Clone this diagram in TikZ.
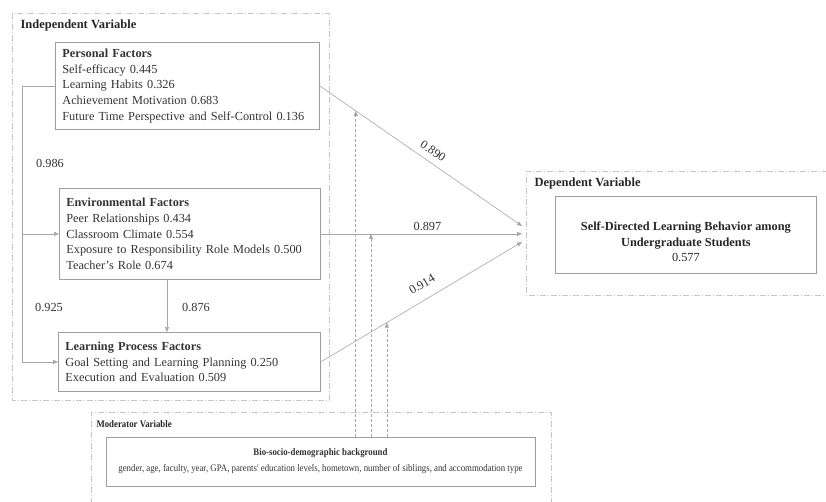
\documentclass[tikz,border=0pt]{standalone}
\usepackage{fontspec}
\setmainfont{Liberation Serif}
\newfontfamily\narrowserif[FakeStretch=0.88]{Liberation Serif}
\usetikzlibrary{arrows.meta,positioning,calc}

\begin{document}
\begin{tikzpicture}[
    x=1pt, y=-1pt,
    font=\fontsize{12.3}{15.7}\selectfont,
    >={Triangle[length=5pt,width=4pt]},
    group/.style={
      draw=gray!45, line width=0.6pt,
      dash pattern=on 6pt off 2pt on 1pt off 2pt,
    },
    grouptitle/.style={anchor=west, font=\fontsize{12.5}{14}\selectfont\bfseries, text=black!85},
    factor/.style={
      draw=gray!75, line width=0.8pt, anchor=north west,
      align=left, inner xsep=7pt, text=black!80,
    },
    link/.style={->, line width=0.6pt, draw=gray!70},
    modlink/.style={->, line width=0.6pt, draw=gray!70, dash pattern=on 3pt off 2pt},
    coef/.style={font=\fontsize{12.3}{14}\selectfont, text=black!80},
  ]
    \useasboundingbox (0,0) rectangle (826,502);

    % ===== Group frames =====
    \draw[group] (12,13) rectangle (329,400);
    \draw[group] (828,171) -- (526,171) -- (526,295) -- (828,295);
    \draw[group] (91,504) -- (91,412) -- (551,412) -- (551,504);

    \node[grouptitle] (indep) at (17,25) {Independent Variable};
    \node[grouptitle] (depv) at (531,183) {Dependent Variable};
    \node[grouptitle, font=\fontsize{10}{12}\selectfont\narrowserif\bfseries] (modv) at (93,424) {Moderator Variable};

    % ===== Factor boxes =====
    \node[factor, text width=250, minimum height=87] (pers) at (55,42) {%
      \textbf{Personal Factors}\\
      Self-efficacy 0.445\\
      Learning Habits 0.326\\
      Achievement Motivation 0.683\\
      Future Time Perspective and Self-Control 0.136};

    \node[factor, text width=247, minimum height=91] (env) at (59,188) {%
      \textbf{Environmental Factors}\\
      Peer Relationships 0.434\\
      Classroom Climate 0.554\\
      Exposure to Responsibility Role Models 0.500\\
      Teacher's Role 0.674};

    \node[factor, text width=248, minimum height=59] (lp) at (58,332) {%
      \textbf{Learning Process Factors}\\
      Goal Setting and Learning Planning 0.250\\
      Execution and Evaluation 0.509};

    % ===== Outcome and moderator =====
    \node[factor, minimum width=261, minimum height=77] (sdl) at (555,196) {};
    \node[align=center, text=black!85] (sdltxt) at ([yshift=-7pt]sdl.center) {%
      \textbf{Self-Directed Learning Behavior among}\\
      \textbf{Undergraduate Students}\\
      0.577};

    \node[factor, anchor=center, align=center, minimum width=429, minimum height=49,
      font=\fontsize{10}{16}\selectfont\narrowserif] (bio) at (320.5,461.5) {%
      \textbf{Bio-socio-demographic background}\\
      gender, age, faculty, year, GPA, parents' education levels, hometown, number of siblings, and accommodation type};

    % ===== Paths =====
    \coordinate (lft) at (22,0);
    \coordinate (t1) at (522,226);
    \coordinate (t2) at (522,234);
    \coordinate (t3) at (522,242);

    \draw[link] (pers.west) -- (pers.west -| lft) |- (lp.west);
    \draw[link] (lft |- env.west) -- (env.west);
    \draw[link] (env.south -| 167,0) -- (lp.north -| 167,0);

    \draw[link] (pers.east) -- (t1)
      node[coef, pos=0.53, sloped, above=3pt] {0.890};
    \draw[link] (env.east) -- (t2 |- env.east)
      node[coef, pos=0.53, above] {0.897};
    \draw[link] (lp.east) -- (t3)
      node[coef, pos=0.54, sloped, above=7pt] {0.914};

    \node[coef] (c1) at (50,163) {0.986};
    \node[coef] (c2) at (49,307) {0.925};
    \node[coef] (c3) at (196,307) {0.876};

    % ===== Moderating effects =====
    \path (pers.east) -- (t1) coordinate[pos=0.178] (m1);
    \path (lp.east) -- (t3) coordinate[pos=0.328] (m3);
    \coordinate (m2) at (371,0);

    \draw[modlink] (bio.north -| m1) -- (m1);
    \draw[modlink] (bio.north -| m2) -- (m2 |- env.east);
    \draw[modlink] (bio.north -| m3) -- (m3);

  \end{tikzpicture}
\end{document}
